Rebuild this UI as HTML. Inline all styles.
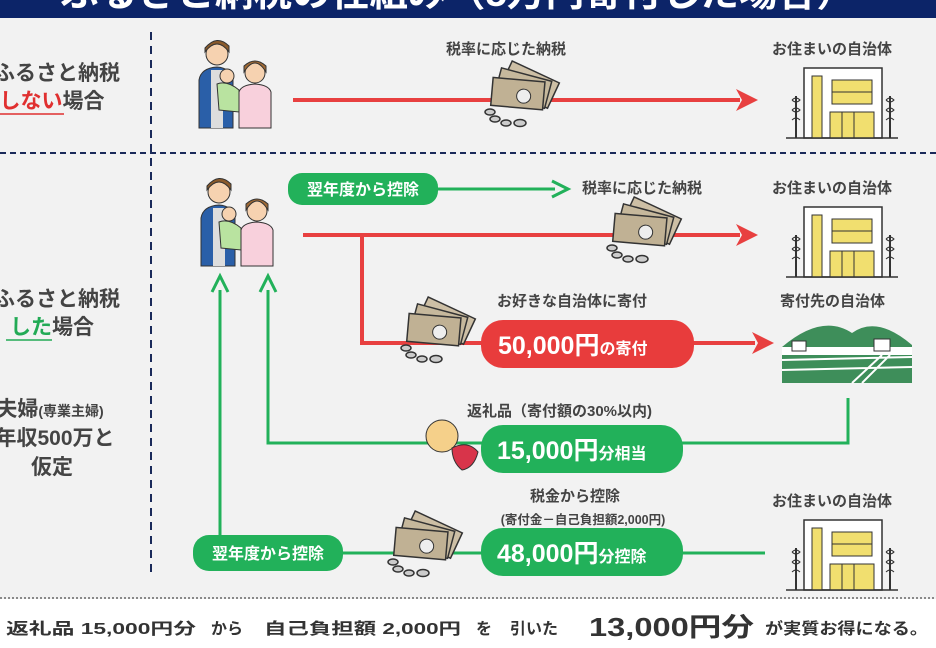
<!DOCTYPE html>
<html><head><meta charset="utf-8"><style>
html,body{margin:0;padding:0;background:#f2f2f2;}
svg{display:block;font-family:"Liberation Sans","Noto Sans CJK JP",sans-serif;}
</style></head><body>
<svg width="936" height="648" viewBox="0 0 936 648" xmlns="http://www.w3.org/2000/svg">
<defs>
 <g id="fam">
  <circle cx="22" cy="14" r="11" fill="#f6d2b0" stroke="#333"/>
  <path d="M10 12 Q22 -4 34 12 L34 6 Q22 -6 10 8Z" fill="#8a5a2b" stroke="#333"/>
  <path d="M4 40 Q6 28 22 27 Q36 28 38 40 L38 88 L4 88Z" fill="#2a5fa8" stroke="#333"/>
  <rect x="16" y="30" width="12" height="58" fill="#ddd"/>
  <circle cx="32" cy="36" r="7" fill="#f6d2b0" stroke="#333"/>
  <path d="M22 44 Q32 40 44 50 L44 72 L24 70Z" fill="#b9e3a0" stroke="#333"/>
  <circle cx="60" cy="33" r="10" fill="#f6d2b0" stroke="#333"/>
  <path d="M49 32 Q60 14 71 32 L71 26 Q60 16 49 26Z" fill="#a06a35" stroke="#333"/>
  <path d="M44 52 Q46 45 60 44 Q74 45 76 52 L76 88 L44 88Z" fill="#f8d0dc" stroke="#333"/>
 </g>
 <g id="money">
  <g transform="rotate(25 40 30)"><rect x="18" y="6" width="52" height="28" fill="#cdbfa5" stroke="#333" stroke-width="1.5"/></g>
  <g transform="rotate(15 40 30)"><rect x="14" y="12" width="52" height="28" fill="#c6b89c" stroke="#333" stroke-width="1.5"/></g>
  <g transform="rotate(5 40 30)"><rect x="10" y="18" width="52" height="28" fill="#c0b194" stroke="#333" stroke-width="1.5"/><circle cx="42" cy="34" r="7" fill="#eee" stroke="#333"/></g>
  <ellipse cx="8" cy="50" rx="5" ry="3" fill="#ccc" stroke="#333" stroke-width="1.5"/>
  <ellipse cx="13" cy="57" rx="5" ry="3" fill="#ccc" stroke="#333" stroke-width="1.5"/>
  <ellipse cx="24" cy="61" rx="5" ry="3" fill="#ccc" stroke="#333" stroke-width="1.5"/>
  <ellipse cx="38" cy="61" rx="6" ry="3.5" fill="#ccc" stroke="#333" stroke-width="1.5"/>
 </g>
 <g id="bld">
  <rect x="22" y="2" width="78" height="70" fill="#fff" stroke="#333" stroke-width="1.5"/>
  <rect x="30" y="10" width="10" height="62" fill="#f1df6f" stroke="#333"/>
  <rect x="50" y="14" width="40" height="24" fill="#f1df6f" stroke="#333"/>
  <line x1="50" y1="26" x2="90" y2="26" stroke="#333"/>
  <rect x="48" y="46" width="44" height="26" fill="#f1df6f" stroke="#333"/>
  <line x1="60" y1="46" x2="60" y2="72" stroke="#333"/><line x1="72" y1="46" x2="72" y2="72" stroke="#333"/>
  <line x1="14" y1="30" x2="14" y2="72" stroke="#333" stroke-width="2"/><path d="M10 34 q4 -4 8 0 q-4 4 -8 0 M10 44 q4 -4 8 0 q-4 4 -8 0 M10 54 q4 -4 8 0" fill="none" stroke="#333"/>
  <line x1="108" y1="30" x2="108" y2="72" stroke="#333" stroke-width="2"/><path d="M104 34 q4 -4 8 0 q-4 4 -8 0 M104 44 q4 -4 8 0 q-4 4 -8 0 M104 54 q4 -4 8 0" fill="none" stroke="#333"/>
  <line x1="4" y1="72" x2="116" y2="72" stroke="#333" stroke-width="1.5"/>
 </g>
</defs>

<rect x="0" y="0" width="936" height="18" fill="#0c2468"/>
<text x="60" y="6" font-size="37" font-weight="bold" fill="#fff" textLength="795" lengthAdjust="spacingAndGlyphs">ふるさと納税の仕組み（5万円寄付した場合）</text>

<line x1="151" y1="32" x2="151" y2="578" stroke="#1a2a5a" stroke-width="2" stroke-dasharray="8,6"/>
<line x1="0" y1="153" x2="936" y2="153" stroke="#1a2a5a" stroke-width="2" stroke-dasharray="6,4"/>
<rect x="0" y="599" width="936" height="49" fill="#fff"/>
<line x1="0" y1="598" x2="936" y2="598" stroke="#666" stroke-width="1.5" stroke-dasharray="2,2"/>

<g font-size="21" fill="#444" text-anchor="middle" font-weight="bold">
 <text x="57" y="80">ふるさと納税</text>
 <text x="52" y="108"><tspan fill="#e03030">しない</tspan>場合</text>
 <line x1="-5" y1="114" x2="64" y2="114" stroke="#e03030" stroke-width="1.5"/>
 <text x="57" y="306">ふるさと納税</text>
 <text x="52" y="334"><tspan fill="#22aa55">した</tspan>場合</text>
 <line x1="6" y1="340" x2="52" y2="340" stroke="#22aa55" stroke-width="1.5"/>
 <text x="50" y="416">夫婦<tspan font-size="14">(専業主婦)</tspan></text>
 <text x="55" y="445">年収500万と</text>
 <text x="52" y="474">仮定</text>
</g>

<use href="#fam" x="195" y="40"/>
<line x1="293" y1="100" x2="740" y2="100" stroke="#e84040" stroke-width="4"/>
<path d="M736 89 L758 100 L736 111 L742 100Z" fill="#e84040"/>
<use href="#money" x="482" y="62"/>
<g font-size="15" fill="#444" font-weight="bold">
 <text x="446" y="54">税率に応じた納税</text>
 <text x="772" y="54">お住まいの自治体</text>
</g>
<use href="#bld" x="782" y="66"/>

<use href="#fam" x="197" y="178"/>
<rect x="288" y="173" width="150" height="32" rx="14" fill="#22b15a"/>
<text x="363" y="195" font-size="16" font-weight="bold" fill="#fff" text-anchor="middle">翌年度から控除</text>
<line x1="438" y1="189" x2="555" y2="189" stroke="#22b15a" stroke-width="3"/>
<path d="M552 181 L568 189 L552 197" fill="none" stroke="#22b15a" stroke-width="3"/>
<g font-size="15" fill="#444" font-weight="bold">
 <text x="582" y="193">税率に応じた納税</text>
 <text x="772" y="193">お住まいの自治体</text>
 <text x="497" y="306">お好きな自治体に寄付</text>
 <text x="780" y="306">寄付先の自治体</text>
 <text x="467" y="416">返礼品（寄付額の30%以内)</text>
 <text x="530" y="501">税金から控除</text>
 <text x="772" y="506">お住まいの自治体</text>
</g>
<text x="583" y="524" font-size="12.5" fill="#444" font-weight="bold" text-anchor="middle">(寄付金－自己負担額2,000円)</text>
<use href="#bld" x="782" y="205"/>

<line x1="303" y1="235" x2="740" y2="235" stroke="#e84040" stroke-width="4"/>
<path d="M736 224 L758 235 L736 246 L742 235Z" fill="#e84040"/>
<use href="#money" x="604" y="198"/>
<polyline points="362,235 362,343 755,343" fill="none" stroke="#e84040" stroke-width="4"/>
<path d="M752 332 L774 343 L752 354 L758 343Z" fill="#e84040"/>
<use href="#money" x="398" y="298"/>
<rect x="481" y="320" width="213" height="48" rx="22" fill="#e83c3c"/>
<text x="498" y="354" font-size="25" font-weight="bold" fill="#fff">50,000円<tspan font-size="16">の寄付</tspan></text>

<g transform="translate(782,315)">
 <path d="M0 32 Q40 -2 70 18 Q95 0 130 30 L130 68 L0 68Z" fill="#3e8e5a"/>
 <rect x="0" y="32" width="130" height="8" fill="#fff"/>
 <rect x="10" y="26" width="14" height="10" fill="#fff" stroke="#333"/>
 <rect x="92" y="24" width="16" height="12" fill="#fff" stroke="#333"/>
 <path d="M0 45 L130 42 M0 55 L130 52 M70 68 L100 40 M80 68 L108 40" stroke="#fff" stroke-width="2"/>
</g>

<polyline points="848,398 848,443 268,443 268,290" fill="none" stroke="#22b15a" stroke-width="3"/>
<path d="M260 292 L268 276 L276 292" fill="none" stroke="#22b15a" stroke-width="3"/>
<rect x="481" y="425" width="202" height="48" rx="22" fill="#22b15a"/>
<text x="497" y="459" font-size="25" font-weight="bold" fill="#fff">15,000円<tspan font-size="16">分相当</tspan></text>
<circle cx="442" cy="436" r="16" fill="#f5d08a" stroke="#333"/>
<path d="M452 448 Q468 440 478 452 Q474 468 462 470 Q452 462 452 448Z" fill="#d8344a" stroke="#333"/>

<polyline points="765,553 220,553 220,290" fill="none" stroke="#22b15a" stroke-width="3"/>
<path d="M212 292 L220 276 L228 292" fill="none" stroke="#22b15a" stroke-width="3"/>
<rect x="193" y="535" width="150" height="36" rx="16" fill="#22b15a"/>
<text x="268" y="559" font-size="16" font-weight="bold" fill="#fff" text-anchor="middle">翌年度から控除</text>
<use href="#money" x="385" y="512"/>
<rect x="481" y="528" width="202" height="48" rx="22" fill="#22b15a"/>
<text x="497" y="562" font-size="25" font-weight="bold" fill="#fff">48,000円<tspan font-size="16">分控除</tspan></text>
<use href="#bld" x="782" y="518"/>

<g font-size="16" fill="#333" font-weight="bold">
 <text x="6" y="634" textLength="190" lengthAdjust="spacingAndGlyphs">返礼品 15,000円分</text>
 <text x="211" y="634">から</text>
 <text x="264" y="634" textLength="197" lengthAdjust="spacingAndGlyphs">自己負担額 2,000円</text>
 <text x="476" y="634">を</text>
 <text x="510" y="634">引いた</text>
 <text x="589" y="636" font-size="26" textLength="165" lengthAdjust="spacingAndGlyphs">13,000円分</text>
 <text x="765" y="634" textLength="163" lengthAdjust="spacingAndGlyphs">が実質お得になる。</text>
</g>
</svg>
</body></html>
